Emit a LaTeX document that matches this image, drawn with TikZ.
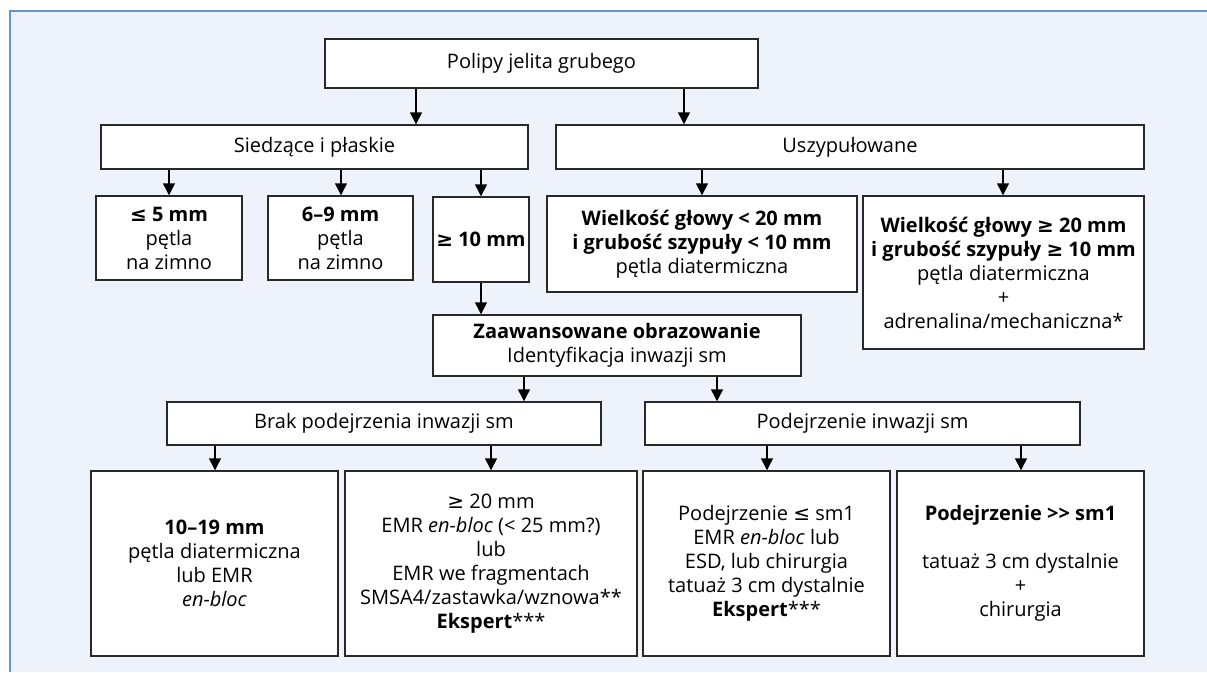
\documentclass[tikz,border=0pt]{standalone}
\usepackage{fontspec}
\setmainfont{Open Sans}
\newfontfamily\symf{DejaVu Sans}
\usetikzlibrary{arrows.meta}
\definecolor{panel}{RGB}{238,242,250}
\definecolor{panelline}{RGB}{100,150,215}
\definecolor{boxline}{RGB}{40,40,40}
\newcommand\lte{{\symf ≤}}
\newcommand\gte{{\symf ≥}}
\begin{document}
\begin{tikzpicture}[x=0.75pt,y=-0.75pt,
  every node/.style={font=\fontsize{15}{18}\selectfont},
  box/.style={draw=boxline,line width=1.1pt,fill=white,align=center,inner sep=0pt},
  wh/.style 2 args={minimum width=#1*0.75pt,minimum height=#2*0.75pt},
  arr/.style={line width=1.1pt,draw=black,-{Triangle[length=9pt,width=9pt]}}]
\useasboundingbox (0,0) rectangle (1207,672);
\fill[panel] (10,11) rectangle (1207,672);
\draw[panelline,line width=1.5pt] (10,672) -- (10,11) -- (1207,11);
% boxes
\node[box,wh={433}{49}] (polipy) at (541.5,63.5) {Polipy jelita grubego};
\node[box,wh={427}{44}] (sied) at (314.5,147) {Siedzące i płaskie};
\node[box,wh={588}{44}] (uszyp) at (850,147) {Uszypułowane};
\node[box,wh={146}{84}] (le5) at (169,238) {\textbf{\lte\ 5 mm}\\pętla\\na zimno};
\node[box,wh={145}{84}] (r69) at (340.5,238) {\textbf{6–9 mm}\\pętla\\na zimno};
\node[box,wh={96}{85}] (ge10) at (481,239.5) {\textbf{\gte\ 10 mm}};
\node[box,wh={310}{96}] (wlt) at (702,244) {\textbf{Wielkość głowy < 20 mm}\\\textbf{i grubość szypuły < 10 mm}\\pętla diatermiczna};
\node[box,wh={281}{153}] (wge) at (1003.5,272.5) {\textbf{Wielkość głowy \gte\ 20 mm}\\\textbf{i grubość szypuły \gte\ 10 mm}\\pętla diatermiczna\\+\\adrenalina/mechaniczna*};
\node[box,wh={368}{61}] (zaaw) at (617,345.5) {\textbf{Zaawansowane obrazowanie}\\Identyfikacja inwazji sm};
\node[box,wh={434}{43}] (brak) at (384,423.5) {Brak podejrzenia inwazji sm};
\node[box,wh={435}{43}] (podin) at (862.5,423.5) {Podejrzenie inwazji sm};
\node[box,wh={247}{185}] (b1) at (214.5,563.5) {\textbf{10–19 mm}\\pętla diatermiczna\\lub EMR\\\textit{en-bloc}};
\node[box,wh={292}{185}] (b2) at (491,563.5) {\gte\ 20 mm\\EMR \textit{en-bloc} (< 25 mm?)\\lub\\EMR we fragmentach\\SMSA4/zastawka/wznowa**\\\textbf{Ekspert}***};
\node[box,wh={247}{185}] (b3) at (766.5,563.5) {Podejrzenie \lte\ sm1\\EMR \textit{en-bloc} lub\\ESD, lub chirurgia\\tatuaż 3 cm dystalnie\\\textbf{Ekspert}***};
\node[box,wh={247}{185}] (b4) at (1020.5,563.5) {\textbf{Podejrzenie >{}> sm1}\\[18pt]tatuaż 3 cm dystalnie\\+\\chirurgia};
% connectors
\draw[arr] (polipy.south -| 416,0) -- (sied.north -| 416,0);
\draw[arr] (polipy.south -| 684,0) -- (uszyp.north -| 684,0);
\draw[arr] (sied.south -| 169,0) -- (le5.north -| 169,0);
\draw[arr] (sied.south -| 341,0) -- (r69.north -| 341,0);
\draw[arr] (sied.south -| 481,0) -- (ge10.north -| 481,0);
\draw[arr] (uszyp.south -| 702,0) -- (wlt.north -| 702,0);
\draw[arr] (uszyp.south -| 1003,0) -- (wge.north -| 1003,0);
\draw[arr] (ge10.south -| 481,0) -- (zaaw.north -| 481,0);
\draw[arr] (zaaw.south -| 524,0) -- (brak.north -| 524,0);
\draw[arr] (zaaw.south -| 717,0) -- (podin.north -| 717,0);
\draw[arr] (brak.south -| 215,0) -- (b1.north -| 215,0);
\draw[arr] (brak.south -| 491,0) -- (b2.north -| 491,0);
\draw[arr] (podin.south -| 767,0) -- (b3.north -| 767,0);
\draw[arr] (podin.south -| 1021,0) -- (b4.north -| 1021,0);
\end{tikzpicture}
\end{document}
